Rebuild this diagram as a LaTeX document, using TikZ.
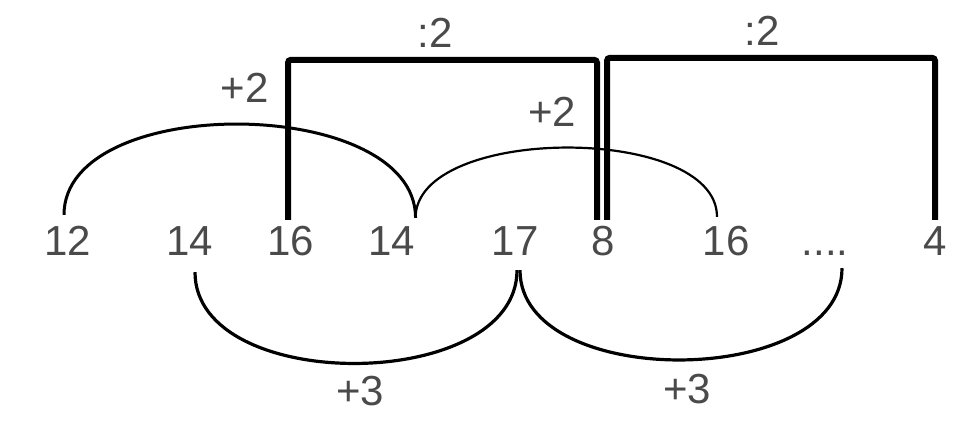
\documentclass[tikz,border=0pt]{standalone}
\usepackage{fontspec}
\setmainfont{Liberation Sans}
\usepackage{xcolor}
\usepackage{tikz}
\usetikzlibrary{positioning}
\definecolor{numgray}{HTML}{4A4A4A}

\begin{document}
\begin{tikzpicture}[x=1pt, y=-1pt]
\tikzstyle{number} = [font=\fontsize{42}{42}\selectfont, text=numgray, inner sep=0pt, text height=30pt, text depth=0pt, anchor=base]
\tikzstyle{oplabel} = [font=\fontsize{42}{42}\selectfont, text=numgray, inner sep=0pt, text height=30pt, text depth=0pt]
\tikzstyle{jump} = [draw=black, line width=3pt]
\tikzstyle{halve} = [draw=black, line width=6pt, rounded corners=3pt]

\useasboundingbox (0,0) rectangle (960,421);

% the row of numbers
\node (n12) [number] at (68,255) {12};
\node (n14a) [number] at (190,255) {14};
\node (n16a) [number] at (291,255) {16};
\node (n14b) [number] at (392,255) {14};
\node (n17) [number] at (515,255) {17};
\node (n8) [number] at (603,255) {8};
\node (n16b) [number] at (726,255) {16};
\node (dots) [number] at (825,255) {....};
\node (n4) [number] at (935,255) {4};

% +2 jumps above
\draw [jump] ([xshift=-4pt,yshift=10pt]n12.north) .. controls +(0,-123) and +(0,-123) .. ([yshift=7pt]n14b.north east)
  node [oplabel, pos=0.5, above=20pt, xshift=5pt] {+2};
\draw [jump, line width=2.2pt] ([yshift=7pt]n14b.north east) .. controls +(0,-93) and +(0,-93) .. ([xshift=-9pt,yshift=8pt]n16b.north)
  node [oplabel, pos=0.5, above=20pt, xshift=-14pt] {+2};

% +3 jumps below
\draw [jump, line width=3.2pt] ([xshift=5pt,yshift=-17pt]n14a.south) .. controls +(0,123) and +(0,123) .. ([xshift=2pt,yshift=-15pt]n17.south)
  node [oplabel, pos=0.5, below=10pt, xshift=4pt] {+3};
\draw [jump, line width=3.2pt] ([xshift=5pt,yshift=-15pt]n17.south) .. controls +(0,121) and +(0,121) .. ([xshift=17pt,yshift=-13pt]dots.south)
  node [oplabel, pos=0.5, below=12pt, xshift=6pt] {+3};

% :2 brackets
\draw [halve] ([xshift=-3pt,yshift=5pt]n16a.north) -- ++(0,-160) -| ([xshift=-6pt,yshift=5pt]n8.north)
  node [oplabel, pos=0.25, above=9pt, xshift=-7pt] {:2};
\draw [halve] ([xshift=4pt,yshift=5pt]n8.north) -- ++(0,-162) -| ([yshift=5pt]n4.north)
  node [oplabel, pos=0.25, above=9pt, xshift=-9pt] {:2};

\end{tikzpicture}
\end{document}
